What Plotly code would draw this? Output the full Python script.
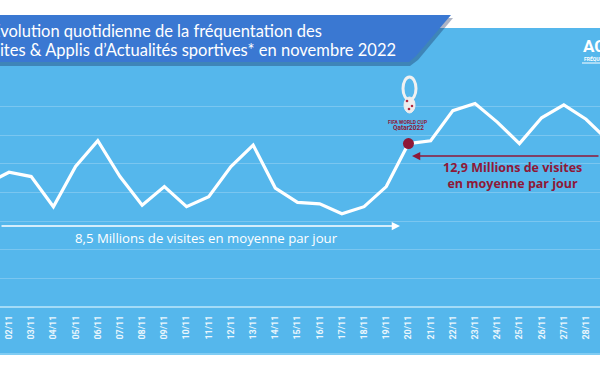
import plotly.graph_objects as go

# ---- data (visits per day, millions) ----
days = list(range(1, 31))
tick_labels = [f"{d:02d}/11" for d in days]
visits = [8.6, 9.4, 9.1, 7.0, 9.8, 11.6, 9.1, 7.1, 8.4, 7.0,
          7.7, 9.8, 11.3, 8.3, 7.3, 7.2, 6.5, 7.0, 8.4, 11.4,
          11.6, 13.7, 14.2, 12.9, 11.4, 13.2, 14.1, 13.1, 11.6, 13.0]
highlight_day = 20
avg_before = "8,5 Millions de visites en moyenne par jour"
avg_during = "12,9 Millions de visites<br>en moyenne par jour"
title_line1 = "Évolution quotidienne de la fréquentation des"
title_line2 = "Sites & Applis d’Actualités sportives* en novembre 2022"

W, H = 600, 372
ML, MR, MT, MB = 0, 0, 92, 65
PH = H - MT - MB
BOTTOM = H - MB


def px(x, y):
    return x / W, (BOTTOM - y) / PH


BLUE = "#55B7EC"
BANNER = "#3A78D2"
RED = "#8E1838"

fig = go.Figure()
fig.add_trace(go.Scatter(x=days, y=visits, mode="lines",
                         line=dict(color="white", width=3.2),
                         hoverinfo="skip", showlegend=False))
fig.add_trace(go.Scatter(x=[highlight_day], y=[visits[highlight_day - 1]],
                         mode="markers", marker=dict(color=RED, size=11),
                         showlegend=False, hoverinfo="skip"))

shapes = []
x0, y0 = px(0, 28)
x1, y1 = px(600, 355)
shapes.append(dict(type="rect", xref="paper", yref="paper", x0=x0, y0=y0, x1=x1, y1=y1,
                   fillcolor=BLUE, line=dict(width=0), layer="below"))
a, b = px(0, 354)
c, d = px(600, 354)
shapes.append(dict(type="line", xref="paper", yref="paper", x0=a, y0=b, x1=c, y1=d,
                   line=dict(color="#8FD3F6", width=1.5), layer="below"))


def path(points):
    s = ""
    for i, (x, y) in enumerate(points):
        X, Y = px(x, y)
        s += ("M" if i == 0 else "L") + f"{X:.5f},{Y:.5f} "
    return s + "Z"


shadow_pts = [(-5, 18), (453, 18), (418, 60), (410, 66), (-5, 66)]
banner_pts = [(-5, 15), (451, 15), (416, 56), (409, 62), (-5, 62)]
shapes.append(dict(type="path", xref="paper", yref="paper", path=path(shadow_pts),
                   fillcolor="rgba(20,40,90,0.35)", line=dict(width=0), layer="below"))
shapes.append(dict(type="path", xref="paper", yref="paper", path=path(banner_pts),
                   fillcolor=BANNER, line=dict(width=0), layer="below"))

# World cup emblem approximation
ex0, ey0 = px(403, 77)
ex1, ey1 = px(416, 100)
shapes.append(dict(type="circle", xref="paper", yref="paper", x0=ex0, y0=ey0, x1=ex1, y1=ey1,
                   line=dict(color="#F1F1F1", width=3), fillcolor="rgba(0,0,0,0)", layer="above"))
ex0, ey0 = px(404, 97)
ex1, ey1 = px(415, 113)
shapes.append(dict(type="circle", xref="paper", yref="paper", x0=ex0, y0=ey0, x1=ex1, y1=ey1,
                   line=dict(color="#EDEDED", width=1), fillcolor="#EDEDED", layer="above"))
for (cx, cy) in [(407, 101), (412, 106), (409, 109)]:
    q0, r0 = px(cx - 1.3, cy - 1.3)
    q1, r1 = px(cx + 1.3, cy + 1.3)
    shapes.append(dict(type="circle", xref="paper", yref="paper", x0=q0, y0=r0, x1=q1, y1=r1,
                       line=dict(width=0), fillcolor="#B0283F", layer="above"))
# logo underline
u0, v0 = px(582, 63)
u1, v1 = px(600, 63)
shapes.append(dict(type="line", xref="paper", yref="paper", x0=u0, y0=v0, x1=u1, y1=v1,
                   line=dict(color="white", width=1), layer="above"))

ann = []


def text(x, y, t, size, color, xanchor="left", weight="normal", family="Lato"):
    X, Y = px(x, y)
    ann.append(dict(xref="paper", yref="paper", x=X, y=Y, text=t, showarrow=False,
                    xanchor=xanchor, yanchor="middle",
                    font=dict(size=size, color=color, family=family, weight=weight)))


text(-11, 31, title_line1, 16.5, "white")
text(-11, 49.5, title_line2, 16.5, "white")
text(207, 238, avg_before, 13.2, "white", xanchor="center", weight=500, family="Open Sans")
text(512, 175, avg_during, 12.5, RED, xanchor="center", weight="bold", family="Open Sans")
text(408, 122, "FIFA WORLD CUP", 5, RED, xanchor="center", weight="bold", family="Roboto")
text(408, 128, "Qatar2022", 6.5, RED, xanchor="center", weight="bold", family="Roboto")
text(581, 46, "ACPM", 17, "white", weight="bold", family="Roboto")
text(582, 59, "FRÉQUENTATION", 5, "white", weight="bold", family="Roboto")

# arrows
hx, hy = px(400, 226)
ann.append(dict(xref="paper", yref="paper", x=hx, y=hy, ax=-410, ay=0, text="",
                showarrow=True, arrowhead=2, arrowsize=1.1, arrowwidth=1.5, arrowcolor="white"))
hx, hy = px(412, 156)
ann.append(dict(xref="paper", yref="paper", x=hx, y=hy, ax=200, ay=0, text="",
                showarrow=True, arrowhead=2, arrowsize=1.1, arrowwidth=1.5, arrowcolor=RED))

fig.update_layout(
    width=W, height=H,
    margin=dict(l=ML, r=MR, t=MT, b=MB, pad=0),
    paper_bgcolor="white", plot_bgcolor="rgba(0,0,0,0)",
    shapes=shapes, annotations=ann, showlegend=False,
    xaxis=dict(range=[1.594, 28.63], tickmode="array", tickvals=days, ticktext=tick_labels,
               tickangle=-90, tickfont=dict(size=9, color="#EAF6FD", family="Roboto", weight="bold"),
               showgrid=False, zeroline=False, showline=False,
               ticks="outside", ticklen=4, tickcolor="rgba(0,0,0,0)"),
    yaxis=dict(range=[0, 15], dtick=2, showticklabels=False,
               gridcolor="rgba(255,255,255,0.22)", gridwidth=1.3,
               zeroline=True, zerolinecolor="#A3DBF7", zerolinewidth=2),
)
fig.write_html("out.html", config={"displayModeBar": False},
               post_script="document.body.style.margin='0';document.body.style.overflow='hidden';")
